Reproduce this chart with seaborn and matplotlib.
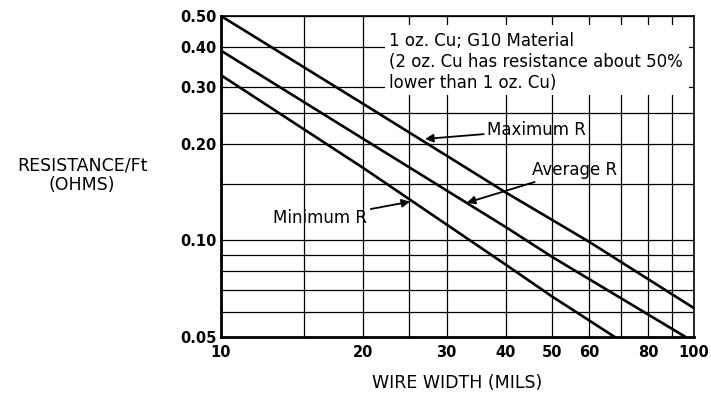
import numpy as np
import pandas as pd
import matplotlib
matplotlib.use("Agg")
import matplotlib.pyplot as plt
import seaborn as sns
from matplotlib.patches import Rectangle

# values (wire width in mils, resistance per foot in ohms)
width_max = [10, 20, 40, 60, 100]
res_max = [0.50, 0.266, 0.141, 0.099, 0.0615]
width_avg = [10, 20, 40, 50, 96]
res_avg = [0.39, 0.207, 0.110, 0.089, 0.05]
width_min = [10, 20, 40, 50, 68]
res_min = [0.327, 0.168, 0.084, 0.067, 0.05]

x_ticks = [10, 15, 20, 25, 30, 40, 50, 60, 70, 80, 90, 100]
x_labels = ["10", "", "20", "", "30", "40", "50", "60", "", "80", "", "100"]
y_ticks = [0.05, 0.06, 0.07, 0.08, 0.09, 0.10, 0.15, 0.20, 0.25, 0.30, 0.40, 0.50]
y_labels = ["0.05", "", "", "", "", "0.10", "", "0.20", "", "0.30", "0.40", "0.50"]

sns.set_style("white")
plt.rcParams["font.family"] = ["DejaVu Sans"]
plt.rcParams["text.color"] = "black"
plt.rcParams["xtick.color"] = "black"
plt.rcParams["ytick.color"] = "black"

fig = plt.figure(figsize=(7.11, 3.93), dpi=100)
ax = fig.add_axes([221 / 711, 56 / 393, 473 / 711, 321 / 393])

for xs, ys in [(width_max, res_max), (width_avg, res_avg), (width_min, res_min)]:
    sns.lineplot(x=xs, y=ys, ax=ax, color="black", linewidth=1.9, zorder=3)

ax.set_xscale("log")
ax.set_yscale("log")
ax.set_xlim(10, 100)
ax.set_ylim(0.05, 0.50)
ax.set_xticks(x_ticks)
ax.set_xticklabels(x_labels)
ax.set_yticks(y_ticks)
ax.set_yticklabels(y_labels)
ax.minorticks_off()
ax.tick_params(length=0, labelsize=10.5, labelcolor="black")
ax.tick_params(axis="x", pad=6)
ax.tick_params(axis="y", pad=3)
for lab in ax.get_xticklabels() + ax.get_yticklabels():
    lab.set_fontweight("bold")
ax.grid(True, color="black", linewidth=0.9)
ax.set_axisbelow(True)
ax.set_xlabel("")
ax.set_ylabel("")

for side, lw in [("left", 2.0), ("bottom", 2.0), ("top", 1.2), ("right", 1.2)]:
    ax.spines[side].set_visible(True)
    ax.spines[side].set_color("black")
    ax.spines[side].set_linewidth(lw)

# white box for the note
ax.add_patch(Rectangle((0.347, 0.754), 0.643, 0.218, transform=ax.transAxes,
                       facecolor="white", edgecolor="none", zorder=2))
ax.text(0.355, 0.95, "1 oz. Cu; G10 Material\n(2 oz. Cu has resistance about 50%\nlower than 1 oz. Cu)",
        transform=ax.transAxes, ha="left", va="top", fontsize=12, linespacing=1.2, zorder=4)

arrow = dict(arrowstyle="-|>", color="black", lw=1.3, mutation_scale=12, shrinkA=0, shrinkB=0)
ax.annotate("Maximum R", xy=(27.0, 0.207), xytext=(36.5, 0.221), fontsize=12,
            ha="left", va="center", arrowprops=arrow, zorder=4)
ax.annotate("Average R", xy=(33.1, 0.131), xytext=(45.5, 0.166), fontsize=12,
            ha="left", va="center", arrowprops=arrow, zorder=4)
ax.annotate("Minimum R", xy=(25.1, 0.132), xytext=(20.4, 0.117), fontsize=12,
            ha="right", va="center", arrowprops=arrow, zorder=4)

fig.text(82 / 711, 1 - 166 / 393, "RESISTANCE/Ft", ha="center", va="center", fontsize=12.5)
fig.text(82 / 711, 1 - 185 / 393, "(OHMS)", ha="center", va="center", fontsize=12.5)
fig.text(457 / 711, 1 - 383 / 393, "WIRE WIDTH (MILS)", ha="center", va="center", fontsize=12.5)

fig.savefig("out.png", dpi=100)
